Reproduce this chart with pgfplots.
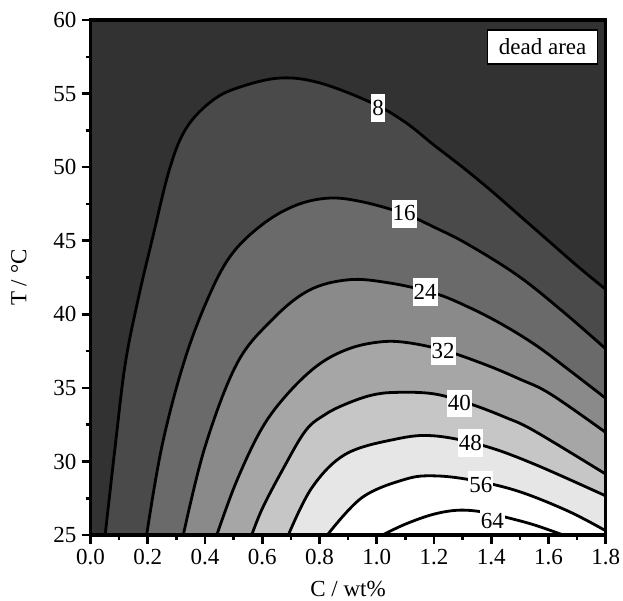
\documentclass[border=0pt]{standalone}
\usepackage{fontspec}
\setmainfont{Liberation Serif}
\usepackage{pgfplots}
\usepackage{pgfplotstable}
\pgfplotsset{compat=1.18}
\definecolor{g0}{HTML}{323232}
\definecolor{g1}{HTML}{4A4A4A}
\definecolor{g2}{HTML}{6A6A6A}
\definecolor{g3}{HTML}{8A8A8A}
\definecolor{g4}{HTML}{A6A6A6}
\definecolor{g5}{HTML}{C6C6C6}
\definecolor{g6}{HTML}{E6E6E6}
\definecolor{g7}{HTML}{FFFFFF}
\definecolor{g8}{HTML}{FFFFFF}

\pgfplotstableread{
x y
0.051 25
0.086 31
0.121 36.6
0.166 41
0.215 45.05
0.278 50
0.337 52.73
0.428 54.56
0.523 55.45
0.663 56.06
0.802 55.72
0.984 54.36
1.10 53.05
1.20 51.5
1.30 50.0
1.40 48.4
1.50 46.7
1.60 45.0
1.70 43.3
1.80 41.7
}\cA
\pgfplotstableread{
x y
0.196 25
0.249 31
0.324 36.6
0.406 40.9
0.49 44.0
0.60 46.1
0.716 47.4
0.833 47.9
0.949 47.65
1.095 46.85
1.20 45.93
1.315 44.8
1.492 42.65
1.65 40.2
1.80 37.66
}\cB
\pgfplotstableread{
x y
0.324 25
0.40 31
0.51 36.6
0.63 39.55
0.76 41.6
0.90 42.35
1.04 42.15
1.20 41.45
1.32 40.5
1.44 39.3
1.56 37.85
1.68 36.1
1.80 34.3
}\cC
\pgfplotstableread{
x y
0.441 25
0.511 28.7
0.60 32.3
0.693 34.7
0.798 36.6
0.902 37.66
1.007 38.12
1.10 38.1
1.233 37.57
1.375 36.62
1.50 35.6
1.608 34.58
1.80 31.98
}\cD
\pgfplotstableread{
x y
0.563 25
0.60 26.8
0.669 29.37
0.751 32.09
0.82 33.2
0.891 33.9
0.98 34.5
1.065 34.7
1.20 34.6
1.329 33.9
1.45 33.0
1.55 32.09
1.80 29.15
}\cE
\pgfplotstableread{
x y
0.691 25
0.774 28.24
0.891 30.5
1.065 31.52
1.20 31.75
1.375 31.07
1.55 29.83
1.80 27.67
}\cF
\pgfplotstableread{
x y
0.827 25
0.949 27.56
1.10 28.8
1.20 29.03
1.33 28.75
1.492 28.0
1.667 26.65
1.80 25.3
}\cG
\pgfplotstableread{
x y
1.019 25
1.10 25.75
1.20 26.43
1.29 26.7
1.38 26.55
1.455 26.2
1.55 25.7
1.653 25
}\cH

\begin{document}
\begin{tikzpicture}[font=\fontsize{23}{27.6}\selectfont,
  clab/.style={fill=white, inner xsep=1pt, inner ysep=0pt, text height=21pt, text depth=6.7pt}]
\begin{axis}[
  width=515pt, height=515pt, scale only axis,
  xmin=0, xmax=1.8, ymin=25, ymax=60,
  axis background/.style={fill=g0},
  axis on top,
  line width=3.5pt,
  axis line style={line width=3.5pt},
  tick align=outside, tick pos=left,
  xtick={0,0.2,0.4,0.6,0.8,1.0,1.2,1.4,1.6,1.8}, minor x tick num=1,
  ytick={25,30,35,40,45,50,55,60}, minor y tick num=1,
  major tick length=9pt, minor tick length=5pt,
  every tick/.append style={black, line width=2.6pt},
  xticklabel style={/pgf/number format/.cd, fixed, fixed zerofill, precision=1},
  /pgf/number format/assume math mode=true,
  xlabel={C / wt\%}, ylabel={T / °C},
  xlabel style={at={(axis description cs:0.5,-0.104)}, anchor=center},
  ylabel style={at={(axis description cs:-0.139,0.5)}, anchor=center},
  cline/.style={black, line width=2.8pt, smooth, tension=0.6},
  cfill/.style={draw=none, smooth, tension=0.6},
]
\addplot[cfill, fill=g1] table {\cA} \closedcycle;
\addplot[cfill, fill=g2] table {\cB} \closedcycle;
\addplot[cfill, fill=g3] table {\cC} \closedcycle;
\addplot[cfill, fill=g4] table {\cD} \closedcycle;
\addplot[cfill, fill=g5] table {\cE} \closedcycle;
\addplot[cfill, fill=g6] table {\cF} \closedcycle;
\addplot[cfill, fill=g7] table {\cG} \closedcycle;
\addplot[cfill, fill=g8] table {\cH} \closedcycle;
\addplot[cline] table {\cA};
\addplot[cline] table {\cB};
\addplot[cline] table {\cC};
\addplot[cline] table {\cD};
\addplot[cline] table {\cE};
\addplot[cline] table {\cF};
\addplot[cline] table {\cG};
\addplot[cline] table {\cH};
\node[clab] at (axis cs:1.005,54.03) {8};
\node[clab] at (axis cs:1.096,46.84) {16};
\node[clab] at (axis cs:1.169,41.53) {24};
\node[clab] at (axis cs:1.232,37.52) {32};
\node[clab] at (axis cs:1.289,33.95) {40};
\node[clab] at (axis cs:1.327,31.27) {48};
\node[clab] at (axis cs:1.364,28.41) {56};
\node[clab] at (axis cs:1.404,25.97) {64};
\node[draw=black, line width=1.3pt, fill=white, anchor=north east, minimum width=110pt, minimum height=34pt, inner sep=0pt] at (rel axis cs:0.9856,0.9819) {dead area};
\end{axis}
\pgfresetboundingbox
\path[use as bounding box] ([shift={(-90.5pt,-65pt)}]current axis.south west) rectangle ([shift={(17.3pt,20pt)}]current axis.north east);
\end{tikzpicture}
\end{document}
